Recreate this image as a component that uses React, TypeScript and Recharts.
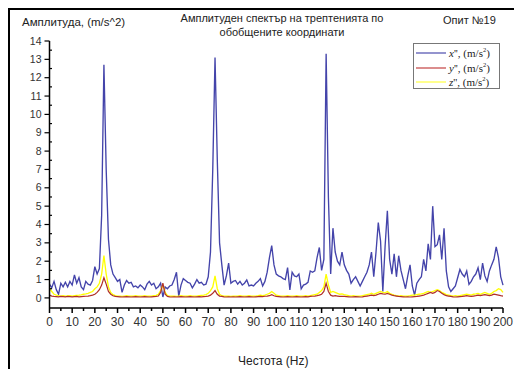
import React from "react";
import { LineChart, Line, XAxis, YAxis } from "recharts";

const xAccel = [
  0.75, 0.55, 0.9, 0.45, 0.2, 0.8, 0.6, 0.85, 0.6, 0.9, 0.7,
  1.25, 0.8, 1.1, 0.6, 0.45, 0.9, 0.75, 0.7, 0.95, 1.7,
  1.3, 1.6, 4.5, 12.7, 7.0, 3.2, 1.8, 1.3, 1.1, 0.9,
  1.0, 0.3, 0.7, 0.95, 0.8, 0.85, 0.6, 0.65, 0.55, 0.7,
  0.6, 0.45, 0.75, 0.9, 0.7, 0.8, 0.5, 0.6, 0.8, 0.05,
  0.6, 0.5, 0.65, 0.7, 1.0, 1.4, 0.1, 0.7, 1.05, 0.95,
  0.85, 0.8, 0.55, 0.75, 1.0, 0.8, 0.85, 0.7, 0.75, 1.15,
  2.5, 7.0, 13.1, 7.5, 3.0, 1.8, 0.7, 1.2, 1.9, 0.8,
  0.9, 0.95, 0.75, 0.9, 0.7, 0.8, 0.98, 0.65, 0.7, 0.65,
  0.8, 0.9, 1.05, 0.65, 0.9, 1.4, 2.2, 2.85, 1.8, 1.3,
  1.2, 1.15, 1.05, 1.0, 1.65, 0.43, 1.4, 1.2, 1.15, 1.3,
  0.5, 0.7, 0.75, 0.85, 1.47, 1.4, 1.47, 2.2, 2.75, 1.5,
  2.1, 13.3, 5.5, 1.3, 3.8, 2.5, 2.0, 1.8, 2.5, 1.8,
  1.5, 1.3, 0.8, 1.0, 1.15, 0.9, 0.65, 0.9, 1.15, 1.4,
  1.8, 2.5, 1.15, 2.5, 4.1, 3.1, 0.35, 2.8, 4.75, 2.1,
  1.3, 2.4, 1.15, 2.3, 1.5, 1.0, 0.5, 1.2, 1.8, 0.65,
  0.15, 0.8, 1.0, 1.15, 2.1, 1.47, 2.95, 2.1, 5.0, 2.8,
  2.9, 3.44, 2.1, 3.8, 1.47, 0.6, 0.35, 0.5, 0.65, 1.1,
  1.55, 1.3, 1.15, 1.47, 0.74, 0.9, 1.15, 1.3, 1.64, 1.0,
  1.9, 1.2, 0.9, 1.47, 1.8, 2.1, 2.78, 2.2, 1.15, 0.7,
];

const yAccel = [
  0.15, 0.1, 0.08, 0.07, 0.06, 0.08, 0.07, 0.06, 0.08, 0.07, 0.06,
  0.07, 0.08, 0.06, 0.07, 0.08, 0.09, 0.1, 0.12, 0.15, 0.2,
  0.3, 0.45, 0.7, 1.1, 0.75, 0.35, 0.2, 0.12, 0.08, 0.07,
  0.06, 0.05, 0.06, 0.07, 0.06, 0.05, 0.06, 0.07, 0.06, 0.05,
  0.06, 0.07, 0.06, 0.05, 0.06, 0.07, 0.08, 0.1, 0.3, 0.8,
  0.2, 0.08, 0.06, 0.05, 0.06, 0.05, 0.06, 0.07, 0.06, 0.05,
  0.06, 0.07, 0.06, 0.05, 0.06, 0.07, 0.06, 0.07, 0.08, 0.1,
  0.15, 0.25, 0.4, 0.2, 0.1, 0.08, 0.06, 0.05, 0.06, 0.05,
  0.06, 0.05, 0.06, 0.07, 0.06, 0.05, 0.06, 0.07, 0.06, 0.05,
  0.06, 0.07, 0.08, 0.07, 0.09, 0.1, 0.12, 0.18, 0.12, 0.08,
  0.07, 0.06, 0.05, 0.06, 0.07, 0.06, 0.05, 0.06, 0.07, 0.06,
  0.05, 0.06, 0.07, 0.06, 0.08, 0.09, 0.1, 0.12, 0.15, 0.2,
  0.35, 0.8, 0.35, 0.15, 0.1, 0.12, 0.1, 0.08, 0.09, 0.08,
  0.07, 0.06, 0.05, 0.06, 0.07, 0.06, 0.05, 0.06, 0.08, 0.1,
  0.12, 0.15, 0.12, 0.15, 0.2, 0.25, 0.22, 0.2, 0.25, 0.2,
  0.15, 0.12, 0.1, 0.08, 0.07, 0.06, 0.05, 0.06, 0.05, 0.06,
  0.07, 0.08, 0.1, 0.12, 0.15, 0.2, 0.25, 0.3, 0.25, 0.3,
  0.4, 0.35, 0.25, 0.18, 0.12, 0.1, 0.08, 0.06, 0.05, 0.06,
  0.07, 0.08, 0.1, 0.12, 0.1, 0.08, 0.1, 0.12, 0.15, 0.12,
  0.15, 0.18, 0.15, 0.12, 0.15, 0.2, 0.18, 0.15, 0.12, 0.1,
];

const zAccel = [
  0.5, 0.35, 0.2, 0.15, 0.12, 0.1, 0.12, 0.1, 0.11, 0.12, 0.1,
  0.12, 0.14, 0.15, 0.17, 0.2, 0.22, 0.25, 0.3, 0.35, 0.5,
  0.6, 0.8, 1.3, 2.3, 1.3, 0.6, 0.3, 0.18, 0.12, 0.1,
  0.1, 0.08, 0.1, 0.12, 0.1, 0.09, 0.1, 0.12, 0.1, 0.09,
  0.1, 0.12, 0.1, 0.09, 0.1, 0.12, 0.14, 0.2, 0.4, 0.7,
  0.3, 0.12, 0.1, 0.09, 0.1, 0.08, 0.1, 0.12, 0.1, 0.09,
  0.1, 0.12, 0.1, 0.09, 0.1, 0.12, 0.14, 0.15, 0.18, 0.25,
  0.4, 0.6, 1.2, 0.5, 0.2, 0.12, 0.1, 0.09, 0.1, 0.08,
  0.1, 0.09, 0.1, 0.12, 0.1, 0.09, 0.1, 0.12, 0.1, 0.09,
  0.1, 0.12, 0.15, 0.13, 0.15, 0.2, 0.25, 0.35, 0.25, 0.15,
  0.12, 0.1, 0.09, 0.1, 0.12, 0.1, 0.09, 0.1, 0.12, 0.1,
  0.09, 0.1, 0.12, 0.1, 0.12, 0.15, 0.18, 0.2, 0.3, 0.4,
  0.6, 1.3, 0.7, 0.3, 0.35, 0.3, 0.25, 0.2, 0.22, 0.18,
  0.15, 0.12, 0.1, 0.12, 0.1, 0.09, 0.1, 0.12, 0.15, 0.18,
  0.2, 0.25, 0.2, 0.25, 0.3, 0.35, 0.3, 0.28, 0.35, 0.25,
  0.2, 0.15, 0.12, 0.1, 0.12, 0.1, 0.09, 0.1, 0.12, 0.15,
  0.15, 0.18, 0.2, 0.22, 0.25, 0.3, 0.35, 0.3, 0.35, 0.4,
  0.45, 0.4, 0.3, 0.25, 0.18, 0.15, 0.12, 0.1, 0.12, 0.1,
  0.12, 0.15, 0.18, 0.2, 0.18, 0.15, 0.2, 0.22, 0.25, 0.2,
  0.25, 0.3, 0.25, 0.2, 0.25, 0.35, 0.4, 0.5, 0.45, 0.3,
];

const frequencies = xAccel.map((_, i) => i);
const xTicks = Array.from({ length: 41 }, (_, i) => i * 5);
const yTicks = Array.from({ length: 29 }, (_, i) => i * 0.5);

const data = frequencies.map((f, i) => ({
  f,
  x: xAccel[i],
  y: yAccel[i],
  z: zAccel[i],
}));

const BLUE = "#4444aa";
const RED = "#b03028";
const YELLOW = "#ffff00";

const YTick = (props: any) => {
  const { x, y, payload } = props;
  const v = payload.value;
  const major = Math.abs(v - Math.round(v)) < 1e-6;
  if (!major) {
    return <line x1={x} y1={y} x2={x + 2.5} y2={y} stroke="#000" strokeWidth={1.2} />;
  }
  return (
    <g>
      <line x1={x - 5} y1={y} x2={x} y2={y} stroke="#000" strokeWidth={1.2} />
      <text x={x - 8} y={y} dy={3.6} textAnchor="end" fontSize={10.5} fill="#333" fontFamily="Liberation Sans, Arial, sans-serif">
        {v}
      </text>
    </g>
  );
};

const XTick = (props: any) => {
  const { x, y, payload } = props;
  const v = payload.value;
  const major = v % 10 === 0;
  if (!major) {
    return <line x1={x} y1={y} x2={x} y2={y + 3} stroke="#000" strokeWidth={1.5} />;
  }
  return (
    <g>
      <line x1={x} y1={y} x2={x} y2={y + 5} stroke="#000" strokeWidth={1.5} />
      <text x={x} y={y + 18} textAnchor="middle" fontSize={12} fill="#333" fontFamily="Liberation Sans, Arial, sans-serif">
        {v}
      </text>
    </g>
  );
};

const legendItems = [
  { name: "x", color: "#5a5ab4" },
  { name: "y", color: "#c85050" },
  { name: "z", color: "#ffff50" },
];

export default function App() {
  return (
    <div style={{ position: "relative", width: 514, height: 369, background: "#fff", overflow: "hidden" }}>
      <style>{`body{margin:0}`}</style>
      <div
        style={{
          position: "absolute",
          left: 8,
          top: 8,
          width: 520,
          height: 380,
          borderTop: "2px solid #000",
          borderLeft: "2px solid #000",
        }}
      />
      <LineChart
        width={514}
        height={369}
        data={data}
        margin={{ top: 41, right: 11, bottom: 31, left: 9.5 }}
        style={{ position: "absolute", left: 0, top: 0 }}
      >
        <XAxis
          dataKey="f"
          type="number"
          domain={[0, 200]}
          ticks={xTicks}
          interval={0}
          tickLine={false}
          tickSize={0}
          tickMargin={0}
          tick={<XTick />}
          height={30}
          axisLine={{ stroke: "#000", strokeWidth: 1.5 }}
        />
        <YAxis
          type="number"
          domain={[-0.55, 14]}
          ticks={yTicks}
          interval={0}
          tickLine={false}
          tickSize={0}
          tickMargin={0}
          tick={<YTick />}
          width={40}
          allowDataOverflow
          axisLine={{ stroke: "#000", strokeWidth: 1.5 }}
        />
        <Line type="linear" dataKey="x" stroke={BLUE} strokeWidth={1.35} dot={false} isAnimationActive={false} />
        <Line type="linear" dataKey="z" stroke={YELLOW} strokeWidth={1.3} dot={false} isAnimationActive={false} />
        <Line type="linear" dataKey="y" stroke={RED} strokeWidth={1.2} dot={false} isAnimationActive={false} />
      </LineChart>
      <div style={{ position: "absolute", left: 22, top: 16, fontSize: 11.5, fontFamily: "Liberation Sans, Arial, sans-serif", color: "#222", whiteSpace: "nowrap" }}>
        Амплитуда, (m/s^2)
      </div>
      <div style={{ position: "absolute", left: 162, top: 12, width: 240, textAlign: "center", fontSize: 11, lineHeight: "13.5px", fontFamily: "Liberation Sans, Arial, sans-serif", color: "#222" }}>
        Амплитуден спектър на трептенията по
        <br />
        обобщените координати
      </div>
      <div style={{ position: "absolute", left: 443, top: 14, fontSize: 11, fontFamily: "Liberation Sans, Arial, sans-serif", color: "#222", whiteSpace: "nowrap" }}>
        Опит №19
      </div>
      <div style={{ position: "absolute", left: 238, top: 355, fontSize: 12, lineHeight: "13px", fontFamily: "Liberation Sans, Arial, sans-serif", color: "#222", whiteSpace: "nowrap" }}>
        Честота (Hz)
      </div>
      <div
        style={{
          position: "absolute",
          left: 413,
          top: 43,
          width: 85,
          height: 44,
          border: "1.5px solid #777",
          background: "#fff",
          fontFamily: "Liberation Serif, Times New Roman, serif",
          fontSize: 11,
          color: "#222",
        }}
      >
        {legendItems.map((it, i) => (
          <div key={it.name} style={{ position: "absolute", left: 2, top: 2.5 + i * 14.5, height: 13, display: "flex", alignItems: "center", whiteSpace: "nowrap" }}>
            <svg width={30} height={4} style={{ marginRight: 3 }}>
              <line x1={0} y1={2} x2={30} y2={2} stroke={it.color} strokeWidth={1.3} />
            </svg>
            <span>
              <i>{it.name}</i>'', (m/s<sup style={{ fontSize: 6.5, verticalAlign: "super", lineHeight: 0 }}>2</sup>)
            </span>
          </div>
        ))}
      </div>
    </div>
  );
}
